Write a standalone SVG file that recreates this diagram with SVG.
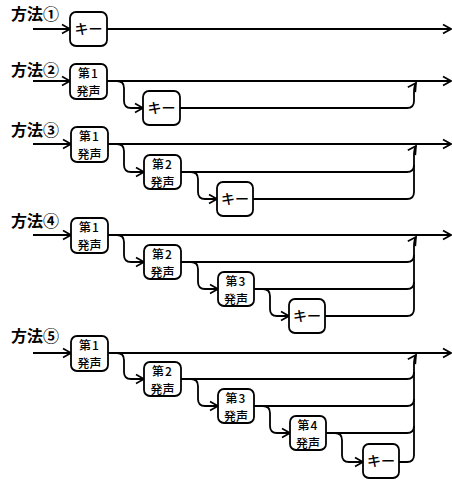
<svg xmlns="http://www.w3.org/2000/svg" width="452" height="479" viewBox="0 0 452 479">
<style>
.bg{fill:#fff}
.box{fill:#fff;stroke:#000;stroke-width:1.8}
.ln{fill:none;stroke:#000;stroke-width:1.8}
.arr{fill:none;stroke:#000;stroke-width:1.8;marker-end:url(#ah)}
.lbl{font-family:"Noto Sans CJK JP","Noto Sans",sans-serif;font-size:16px;font-weight:bold;fill:#000}
.bt{font-family:"Noto Sans CJK JP","Noto Sans",sans-serif;font-size:12px;font-weight:500;fill:#000;text-anchor:middle}
.bk{font-family:"Noto Sans CJK JP","Noto Sans",sans-serif;font-size:14px;font-weight:500;fill:#000;text-anchor:middle}
</style>
<defs>
<marker id="ah" markerUnits="userSpaceOnUse" markerWidth="12" markerHeight="12" refX="8" refY="4.5" orient="auto" overflow="visible">
<path d="M0,0 L8,4.5 L0,9" fill="none" stroke="#000" stroke-width="1.7"/>
</marker>
</defs>
<rect class="bg" x="0" y="0" width="452" height="479"/>

<g id="labels">
<text class="lbl" x="11" y="20">方法①</text>
<text class="lbl" x="11" y="76">方法②</text>
<text class="lbl" x="11" y="136">方法③</text>
<text class="lbl" x="11" y="227">方法④</text>
<text class="lbl" x="11" y="342">方法⑤</text>
</g>

<g id="connectors">
<path class="arr" d="M33 29 H70"/>
<path class="arr" d="M107 29 H451"/>
<path class="arr" d="M33 81 H70"/>
<path class="arr" d="M107 81 H451"/>
<path class="arr" d="M117 81 Q124 81 124 88 V101 Q124 108 131 108 H143"/>
<path class="arr" d="M180 108 H407 Q414 108 414 101 V92 Q414 86 416 83"/>
<path class="arr" d="M33 144 H71"/>
<path class="arr" d="M108 144 H451"/>
<path class="arr" d="M117 144 Q124 144 124 151 V165 Q124 172 131 172 H144"/>
<path class="ln" d="M181 172 H407 Q414 172 414 165"/>
<path class="arr" d="M191 172 Q198 172 198 179 V192 Q198 199 205 199 H217"/>
<path class="arr" d="M253 199 H407 Q414 199 414 192 V155 Q414 149 416 146"/>
<path class="arr" d="M33 235 H71"/>
<path class="arr" d="M108 235 H451"/>
<path class="arr" d="M117 235 Q124 235 124 242 V255 Q124 262 131 262 H144"/>
<path class="ln" d="M181 262 H407 Q414 262 414 255"/>
<path class="arr" d="M191 262 Q198 262 198 269 V282 Q198 289 205 289 H218"/>
<path class="ln" d="M254 289 H407 Q414 289 414 282"/>
<path class="arr" d="M263 289 Q270 289 270 296 V309 Q270 316 277 316 H289"/>
<path class="arr" d="M325 316 H407 Q414 316 414 309 V246 Q414 240 416 237"/>
<path class="arr" d="M33 353 H71"/>
<path class="arr" d="M108 353 H451"/>
<path class="arr" d="M117 353 Q124 353 124 360 V372 Q124 379 131 379 H144"/>
<path class="ln" d="M181 379 H407 Q414 379 414 372"/>
<path class="arr" d="M191 379 Q198 379 198 386 V399 Q198 406 205 406 H218"/>
<path class="ln" d="M254 406 H407 Q414 406 414 399"/>
<path class="arr" d="M263 406 Q270 406 270 413 V426 Q270 433 277 433 H290"/>
<path class="ln" d="M326 433 H407 Q414 433 414 426"/>
<path class="arr" d="M335 433 Q342 433 342 440 V455 Q342 462 349 462 H363"/>
<path class="arr" d="M399 462 H407 Q414 462 414 455 V364 Q414 358 416 355"/>
</g>

<g id="m1-key"><rect class="box" x="70" y="12" width="37" height="34" rx="6"/><text class="bk" x="88.5" y="34">キー</text></g>

<g id="m2-v1"><rect class="box" x="70" y="64" width="37" height="35" rx="6"/><text class="bt" x="88.5" y="78" letter-spacing="1">第1</text><text class="bt" x="88.5" y="95.5">発声</text></g>
<g id="m2-key"><rect class="box" x="143" y="91" width="37" height="34" rx="6"/><text class="bk" x="161.5" y="113">キー</text></g>

<g id="m3-v1"><rect class="box" x="71" y="127" width="37" height="35" rx="6"/><text class="bt" x="89.5" y="141" letter-spacing="1">第1</text><text class="bt" x="89.5" y="158.5">発声</text></g>
<g id="m3-v2"><rect class="box" x="144" y="155" width="37" height="34" rx="6"/><text class="bt" x="162.5" y="169" letter-spacing="1">第2</text><text class="bt" x="162.5" y="186.5">発声</text></g>
<g id="m3-key"><rect class="box" x="217" y="182" width="36" height="34" rx="6"/><text class="bk" x="235" y="204">キー</text></g>

<g id="m4-v1"><rect class="box" x="71" y="218" width="37" height="35" rx="6"/><text class="bt" x="89.5" y="232" letter-spacing="1">第1</text><text class="bt" x="89.5" y="249.5">発声</text></g>
<g id="m4-v2"><rect class="box" x="144" y="245" width="37" height="34" rx="6"/><text class="bt" x="162.5" y="259" letter-spacing="1">第2</text><text class="bt" x="162.5" y="276.5">発声</text></g>
<g id="m4-v3"><rect class="box" x="218" y="272" width="36" height="34" rx="6"/><text class="bt" x="236" y="286" letter-spacing="1">第3</text><text class="bt" x="236" y="303.5">発声</text></g>
<g id="m4-key"><rect class="box" x="289" y="299" width="36" height="34" rx="6"/><text class="bk" x="307" y="321">キー</text></g>

<g id="m5-v1"><rect class="box" x="71" y="336" width="37" height="35" rx="6"/><text class="bt" x="89.5" y="350" letter-spacing="1">第1</text><text class="bt" x="89.5" y="367.5">発声</text></g>
<g id="m5-v2"><rect class="box" x="144" y="362" width="37" height="34" rx="6"/><text class="bt" x="162.5" y="376" letter-spacing="1">第2</text><text class="bt" x="162.5" y="393.5">発声</text></g>
<g id="m5-v3"><rect class="box" x="218" y="389" width="36" height="34" rx="6"/><text class="bt" x="236" y="403" letter-spacing="1">第3</text><text class="bt" x="236" y="420.5">発声</text></g>
<g id="m5-v4"><rect class="box" x="290" y="416" width="36" height="34" rx="6"/><text class="bt" x="308" y="430" letter-spacing="1">第4</text><text class="bt" x="308" y="447.5">発声</text></g>
<g id="m5-key"><rect class="box" x="363" y="444" width="36" height="34" rx="6"/><text class="bk" x="381" y="466">キー</text></g>
</svg>
